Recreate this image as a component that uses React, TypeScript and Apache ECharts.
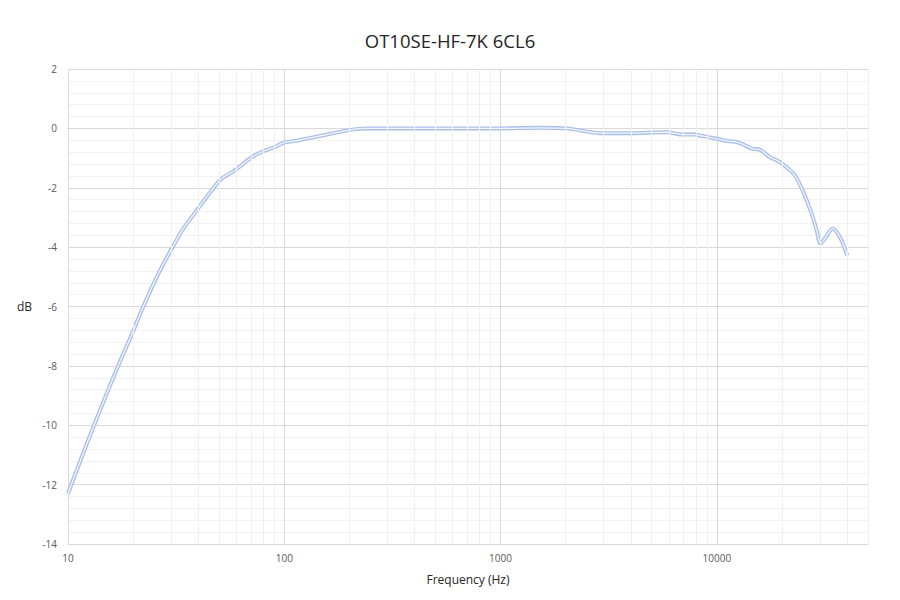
import React, { useEffect, useRef } from "react";
import * as echarts from "echarts";

const titleText = "OT10SE-HF-7K 6CL6";
const xAxisName = "Frequency (Hz)";
const yAxisName = "dB";

const freqHz = [
  10, 13.1, 17.1, 19.7, 22.3, 26.2, 30.2, 34.1, 39.4, 46.1, 51.4, 59.2, 70.7, 80, 89, 99, 117,
  150, 201, 240, 400, 700, 1000, 1500, 2020, 2880, 3960, 5860, 7000, 7930, 8360, 10000, 11290,
  12340, 13240, 14480, 15820, 17590, 19220, 21410, 22970, 25100, 27440, 28930, 30190, 31600,
  34290, 37060, 40070,
];
const dbValues = [
  -12.3, -10.06, -7.98, -6.95, -6.0, -4.89, -4.05, -3.38, -2.76, -2.09, -1.69, -1.41, -0.97,
  -0.77, -0.65, -0.49, -0.4, -0.24, -0.05, 0.0, 0.0, 0.0, 0.0, 0.02, 0.0, -0.16, -0.16, -0.13,
  -0.21, -0.21, -0.24, -0.35, -0.43, -0.46, -0.54, -0.68, -0.72, -0.97, -1.1, -1.36, -1.58,
  -2.14, -2.87, -3.43, -3.88, -3.71, -3.38, -3.66, -4.28,
];

const minorFreqs = [
  20, 30, 40, 50, 60, 70, 80, 90, 200, 300, 400, 500, 600, 700, 800, 900, 2000, 3000, 4000,
  5000, 6000, 7000, 8000, 9000, 20000, 30000, 40000, 50000,
];

export default function App() {
  const ref = useRef<HTMLDivElement>(null);
  useEffect(() => {
    if (!ref.current) return;
    const chart = echarts.init(ref.current, null, { renderer: "svg" });
    const pts = freqHz.map((f, i) => [f, dbValues[i]]);
    const font = "'Open Sans', 'Noto Sans', sans-serif";
    chart.setOption({
      animation: false,
      backgroundColor: "#ffffff",
      title: {
        text: titleText,
        left: "center",
        top: 26,
        textStyle: { fontFamily: font, fontSize: 18.5, fontWeight: "normal", color: "#262626" },
      },
      grid: { left: 68, right: 32, top: 69, bottom: 56 },
      xAxis: {
        type: "log",
        logBase: 10,
        min: 10,
        max: 50000,
        name: xAxisName,
        nameLocation: "middle",
        nameGap: 29,
        nameTextStyle: { fontFamily: font, fontSize: 12, color: "#262626" },
        axisLine: { show: true, lineStyle: { color: "#d9d9d9", width: 1 } },
        axisTick: { show: false },
        axisLabel: {
          fontFamily: font,
          fontSize: 10,
          color: "#595959",
          margin: 9,
          showMaxLabel: false,
          formatter: (v: number) => String(Math.round(v)),
        },
        splitLine: { show: true, lineStyle: { color: "#d9d9d9", width: 1 } },
      },
      yAxis: {
        type: "value",
        min: -14,
        max: 2,
        interval: 2,
        name: yAxisName,
        nameLocation: "middle",
        nameGap: 36,
        nameRotate: 0,
        nameTextStyle: { fontFamily: font, fontSize: 12, color: "#262626" },
        axisLine: { show: true, lineStyle: { color: "#d9d9d9", width: 1 } },
        axisTick: { show: false },
        axisLabel: { fontFamily: font, fontSize: 10, color: "#595959", margin: 11 },
        splitLine: { show: true, lineStyle: { color: "#d9d9d9", width: 1 } },
        minorTick: { show: false, splitNumber: 5 },
        minorSplitLine: { show: true, lineStyle: { color: "#f2f2f2", width: 1 } },
      },
      series: [
        {
          type: "line",
          data: [],
          z: -1,
          silent: true,
          markLine: {
            silent: true,
            symbol: "none",
            label: { show: false },
            lineStyle: { color: "#f0f0f0", width: 1, type: "solid" },
            data: minorFreqs.map((f) => ({ xAxis: f })),
          },
        },
        {
          type: "line",
          data: pts,
          smooth: 0.3,
          showSymbol: false,
          symbol: "none",
          silent: true,
          lineStyle: { color: "#a9bfe7", width: 4 },
          z: 3,
        },
        {
          type: "line",
          data: pts,
          smooth: 0.3,
          showSymbol: false,
          symbol: "none",
          silent: true,
          lineStyle: { color: "#f4f7fd", width: 1.3 },
          z: 4,
        },
      ],
    });
    return () => chart.dispose();
  }, []);
  return <div ref={ref} style={{ width: 900, height: 600, margin: -8 }} />;
}
